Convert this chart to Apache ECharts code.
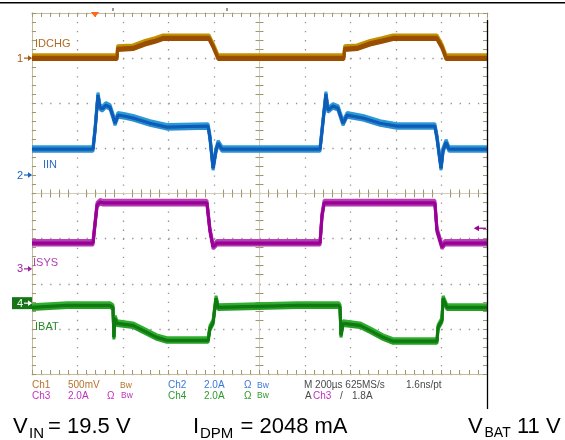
<!DOCTYPE html>
<html><head><meta charset="utf-8">
<style>html,body{margin:0;padding:0;background:#fff;overflow:hidden}#g,#c{position:absolute;left:0;top:0;width:565px;height:440px}</style>
<script src="https://cdn.jsdelivr.net/npm/echarts@6/dist/echarts.min.js"></script>
</head><body><div id="g"></div><div id="c"></div>
<script>
// Time in µs from the left edge of the screen (M 200 µs/div, 10 div)
const ch1Time = [0,374,376,444,497,541,576,778,796,818,1371,1374,1429,1486,1538,1587,1780,1802,1820,2000];
const ch1Val  = [0.01,0.01,0.11,0.12,0.17,0.20,0.23,0.23,0.14,0.01,0.01,0.11,0.12,0.17,0.20,0.23,0.23,0.13,0.01,0.01]; // V (IDCHG)
const ch2Time = [0,268,277,290,299,308,325,343,356,365,378,409,444,519,593,774,782,796,809,818,835,1266,1275,1292,1301,1323,1345,1367,1385,1455,1530,1604,1771,1780,1798,1807,1820,1833,2000];
const ch2Val  = [1.15,1.15,1.99,3.55,3.01,2.93,3.10,3.01,2.61,2.30,2.66,2.61,2.53,2.30,2.13,2.17,1.68,0.31,1.11,1.42,1.15,1.15,1.99,3.59,2.88,3.06,2.97,2.30,2.66,2.53,2.30,2.17,2.17,1.68,0.31,1.11,1.46,1.15,1.15]; // A (IIN)
const ch3Time = [0,268,286,299,312,769,782,796,813,1266,1275,1284,1771,1780,1802,1815,2000];
const ch3Val  = [1.15,1.15,2.84,2.97,2.93,2.93,1.73,0.98,1.15,1.15,2.39,2.93,2.93,1.73,0.98,1.15,1.15]; // A (ISYS)
const ch4Time = [0,154,343,356,360,365,374,444,488,549,593,774,782,796,809,818,1165,1349,1354,1358,1367,1442,1486,1543,1587,1780,1785,1802,1807,1824,2000];
const ch4Val  = [-0.18,-0.09,-0.09,-0.18,-1.51,-0.66,-0.89,-0.98,-1.20,-1.51,-1.64,-1.64,-1.11,-0.84,0.22,-0.18,-0.09,-0.09,-0.18,-1.42,-0.89,-0.98,-1.20,-1.51,-1.68,-1.68,-1.06,-0.75,0.22,-0.18,-0.18]; // A (IBAT)

const channelNames = ['IDCHG','IIN','ISYS','IBAT'];
const channelScale = [0.5, 2, 2, 2];          // units per division
const channelPos   = [7.0, 4.41, 2.33, 1.57]; // ground marker, divisions from bottom
const triggerLevel = 1.8;                      // A on Ch3
const triggerTime  = 277;                      // µs from left edge

const F = '"Liberation Sans", Arial, sans-serif';
const G = {left:32, top:13, width:455, height:361};
const border = '#c2ba98', tickC = '#a0976e';
const pairs = (t,v) => t.map((x,i)=>[x,v[i]]);
const py = d => G.top + G.height*(1 - d/8);
const px = t => G.left + G.width*t/2000;

/* ---------- graticule (bottom layer) ---------- */
const tickStyle = {show:true,inside:true,length:4,lineStyle:{color:tickC,width:1}};
const minorStyle = {show:true,splitNumber:5,length:4,lineStyle:{color:tickC,width:1}};
const borderX = pos => ({type:'value', gridIndex:0, position:pos, min:0, max:2000, interval:200,
  axisLine:{show:true,onZero:false,lineStyle:{color:border,width:1}},
  axisTick:tickStyle, minorTick:minorStyle, axisLabel:{show:false},
  splitLine:{show:pos==='bottom',lineStyle:{color:'#929292',width:1.3,type:[1.3,7.725]}}});
const borderY = pos => ({type:'value', gridIndex:0, position:pos, min:0, max:8, interval:1,
  axisLine:{show:true,onZero:false,lineStyle:{color:border,width:1}},
  axisTick:tickStyle, minorTick:minorStyle, axisLabel:{show:false},
  splitLine:{show:pos==='left',lineStyle:{color:'#929292',width:1.3,type:[1.3,7.8]}}});
const centerX = (gi,inside) => ({type:'value', gridIndex:gi, position:'bottom', min:-5, max:5, interval:1,
  axisLine:{show:true,onZero:true,lineStyle:{color:gi===1?'#d2cdb9':'rgba(0,0,0,0)',width:1}},
  axisTick:{show:false,inside:inside,length:4},
  minorTick:{show:true,splitNumber:5,length:4,lineStyle:{color:tickC,width:1}},
  axisLabel:{show:false}, splitLine:{show:false}});
const centerY = (gi,inside) => ({type:'value', gridIndex:gi, position:'left', min:-4, max:4, interval:1,
  axisLine:{show:true,onZero:true,lineStyle:{color:gi===1?'#d2cdb9':'rgba(0,0,0,0)',width:1}},
  axisTick:{show:false,inside:inside,length:4},
  minorTick:{show:true,splitNumber:5,length:4,lineStyle:{color:tickC,width:1}},
  axisLabel:{show:false}, splitLine:{show:false}});
const gridChart = echarts.init(document.getElementById('g'), null, {renderer:'canvas'});
gridChart.setOption({
  animation:false,
  grid:[Object.assign({},G),Object.assign({},G),Object.assign({},G)],
  xAxis:[borderX('bottom'), borderX('top'), centerX(1,true), centerX(2,false)],
  yAxis:[borderY('left'), borderY('right'), centerY(1,true), centerY(2,false)]
});
gridChart.getZr().storage.getDisplayList(true);

/* ---------- traces and annotations (top layer) ---------- */
const traceColors = [
  {c:'#9a4e00', up:'#c29000', dn:'#9a4e00'},
  {c:'#0f5cb8', up:'#2a9ad6', dn:'#2a8ed0'},
  {c:'#990096', up:'#b640b4', dn:'#b035ae'},
  {c:'#0f7a0f', up:'#2fae2f', dn:'#259e25'}
];
const data = [pairs(ch1Time,ch1Val), pairs(ch2Time,ch2Val), pairs(ch3Time,ch3Val), pairs(ch4Time,ch4Val)];
const yAxes = channelScale.map((s,i)=>({type:'value', show:false, min:-channelPos[i]*s, max:(8-channelPos[i])*s}));
const series = [];
data.forEach((d,i)=>{
  const tc = traceColors[i];
  [[tc.dn, 2.2],[tc.up, -2.4]].forEach((s,k)=>{
    series.push({type:'line', name:channelNames[i], xAxisIndex:0, yAxisIndex:i, data:d,
      symbol:'none', silent:true, animation:false, z:5+i*2+k,
      lineStyle:{color:tc.c, width:3, shadowColor:s[0], shadowOffsetY:s[1], shadowBlur:0}});
  });
});

const gr = [];
const txt = (t,x,y,fill,size) => gr.push({type:'text', x:x, y:y, z:100, silent:true,
  style:{text:t, fill:fill, font:size+'px '+F, align:'left', verticalAlign:'middle', textAlign:'left', textVerticalAlign:'middle'}});
const ln = (x1,y1,x2,y2,c,w) => gr.push({type:'line', z:100, silent:true, shape:{x1,y1,x2,y2}, style:{stroke:c, lineWidth:w}});
const arrowRight = (xTip,y,c) => { [[4,5],[3,3.6],[2,2.2],[1,0.9]].forEach(a=>ln(xTip-a[0]+0.5,y-a[1]/2,xTip-a[0]+0.5,y+a[1]/2,c,1)); };
const arrowLeft  = (xTip,y,c) => { [[0,0.8],[1,1.9],[2,3],[3,4.1],[4,5.2]].forEach(a=>ln(xTip+a[0]+0.5,y-a[1]/2,xTip+a[0]+0.5,y+a[1]/2,c,1)); };

// frame lines of the screenshot
ln(0,2.8,565,2.8,'#000',1.4);
ln(487.5,20,487.5,409,'#000',1.3);
ln(113,8,113,11,'#333',1); ln(227,8,227,11,'#333',1);
// trigger position (orange) and trigger level (Ch3) markers
const tx = px(triggerTime);
[[12.5,3.8],[13.5,3.0],[14.5,2.2],[15.5,1.4],[16.5,0.6]].forEach(a=>ln(tx-a[1],a[0],tx+a[1],a[0],'#ff6a1a',1));
const ty = py(channelPos[2] + triggerLevel/channelScale[2]);
ln(478,ty,486,ty,'#9a0096',1.3); arrowLeft(474,ty,'#9a0096');
// channel ground markers
const markC = ['#a35a10','#1c62bf','#a020a0','#107a10'];
[0,1,2].forEach(i=>{
  const y = py(channelPos[i]);
  txt(String(i+1),17,y+0.5,markC[i],11);
  ln(24,y,28.5,y,markC[i],1.2); arrowRight(32,y,markC[i]);
});
{
  const y = py(channelPos[3]);
  ln(12,y,32,y,'#167516',12);
  txt('4',17,y+0.5,'#fff',11);
  ln(24,y,28.5,y,'#fff',1.2); arrowRight(32,y,'#fff');
}
// trace labels
txt(channelNames[0],35,44,'#b06a22',11);
txt(channelNames[1],43,165,'#2e6cc4',11);
txt(channelNames[2],33,262.5,'#b040b0',11);
txt(channelNames[3],35,327,'#2a8a2a',11);
// scope settings readout
const c1='#b8702c', c2='#3b78d6', c3='#c030c0', c4='#2f9a2f', cg='#4a4a4a';
const r1 = 385.5, r2 = 396;
[['Ch1',32,c1],['500mV',68,c1],['Bw',120,c1],['Ch2',168,c2],['2.0A',204,c2],['Ω',244,c2],['Bw',257,c2],['M 200µs 625MS/s',304,cg],['1.6ns/pt',406,cg]]
  .forEach(a=>txt(a[0],a[1],r1,a[2],a[0]==='Bw'?8.5:10));
[['Ch3',32,c3],['2.0A',68,c3],['Ω',107,c3],['Bw',121,c3],['Ch4',168,c4],['2.0A',204,c4],['Ω',244,c4],['Bw',257,c4],['A',305,cg],['Ch3',313,c3],['/',340,cg],['1.8A',352,cg]]
  .forEach(a=>txt(a[0],a[1],r2,a[2],a[0]==='Bw'?8.5:10));
// test conditions
const big = 426.5, sub = 433.5;
txt('V',13,big,'#000',22); txt('IN',29,sub,'#000',15); txt('= 19.5 V',48,big,'#000',22);
txt('I',193,big,'#000',22); txt('DPM',200,sub,'#000',15); txt('= 2048 mA',240.5,big,'#000',22);
txt('V',468,big,'#000',22); txt('BAT',484.5,sub,'#000',14); txt('11 V',517,big,'#000',22);

const chart = echarts.init(document.getElementById('c'), null, {renderer:'canvas'});
chart.setOption({
  animation:false,
  grid:[Object.assign({},G)],
  xAxis:[{type:'value', show:false, min:0, max:2000}],
  yAxis:yAxes, series:series, graphic:gr
});
chart.getZr().storage.getDisplayList(true);
</script></body></html>
